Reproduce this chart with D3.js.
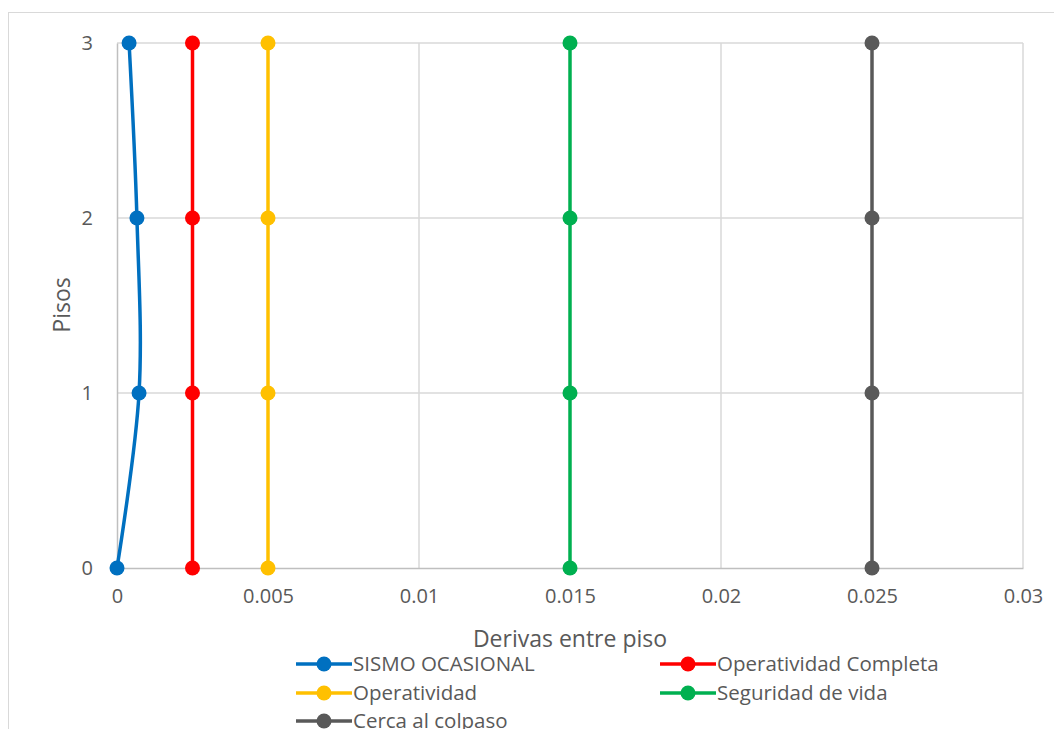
<!DOCTYPE html>
<html>
<head>
<meta charset="utf-8">
<script src="https://cdn.jsdelivr.net/npm/d3@7"></script>
<style>
  html, body { margin: 0; padding: 0; background: #fff; }
  svg { display: block; font-family: "Open Sans", "Noto Sans", sans-serif; }
</style>
</head>
<body>
<svg id="chart" width="1054" height="729"></svg>
<script>
// Floors (y) and inter-storey drift values (x) for each series
const floors = [0, 1, 2, 3];
const sismoOcasional = [0, 0.00073, 0.00066, 0.0004];
const operatividadCompleta = [0.0025, 0.0025, 0.0025, 0.0025];
const operatividad = [0.005, 0.005, 0.005, 0.005];
const seguridadVida = [0.015, 0.015, 0.015, 0.015];
const cercaColapso = [0.025, 0.025, 0.025, 0.025];

const seriesNames = ["SISMO OCASIONAL", "Operatividad Completa", "Operatividad", "Seguridad de vida", "Cerca al colpaso"];
const seriesValues = [sismoOcasional, operatividadCompleta, operatividad, seguridadVida, cercaColapso];
const seriesColors = ["#0070c0", "#ff0000", "#ffc000", "#00b050", "#595959"];

const xTicks = [0, 0.005, 0.01, 0.015, 0.02, 0.025, 0.03];
const xTickLabels = ["0", "0.005", "0.01", "0.015", "0.02", "0.025", "0.03"];
const yTicks = [0, 1, 2, 3];

const svg = d3.select("#chart");

// Outer chart frame
svg.append("rect")
  .attr("x", 8.5).attr("y", 12.5)
  .attr("width", 1060).attr("height", 740)
  .attr("fill", "none").attr("stroke", "#d9d9d9").attr("stroke-width", 1);

const x = d3.scaleLinear().domain([0, 0.03]).range([117, 1023]);
const y = d3.scaleLinear().domain([0, 3]).range([568, 43]);

// Gridlines
svg.append("g")
  .selectAll("line.vg")
  .data(xTicks.slice(1))
  .join("line")
  .attr("x1", d => x(d)).attr("x2", d => x(d))
  .attr("y1", y(0)).attr("y2", y(3))
  .attr("stroke", "#d9d9d9").attr("stroke-width", 1.5);

svg.append("g")
  .selectAll("line.hg")
  .data(yTicks.slice(1))
  .join("line")
  .attr("x1", x(0)).attr("x2", x(0.03))
  .attr("y1", d => y(d)).attr("y2", d => y(d))
  .attr("stroke", "#d9d9d9").attr("stroke-width", 1.5);

// Axes
const xAxis = d3.axisBottom(x).tickValues(xTicks)
  .tickFormat((d, i) => xTickLabels[i]).tickSize(0).tickPadding(21);
const gx = svg.append("g").attr("transform", `translate(0,${y(0)})`).call(xAxis);
gx.select(".domain").attr("stroke", "#bfbfbf").attr("stroke-width", 1.5);
gx.selectAll("text").attr("fill", "#595959").style("font-size", "20px")
  .style("font-family", "'Open Sans', sans-serif");

const yAxis = d3.axisLeft(y).tickValues(yTicks).tickFormat(d3.format("d"))
  .tickSize(0).tickPadding(24);
const gy = svg.append("g").attr("transform", `translate(${x(0)},0)`).call(yAxis);
gy.select(".domain").attr("stroke", "#bfbfbf").attr("stroke-width", 1.5);
gy.selectAll("text").attr("fill", "#595959").style("font-size", "20px")
  .style("font-family", "'Open Sans', sans-serif");

// Axis titles
svg.append("text")
  .attr("x", 570).attr("y", 639).attr("dy", "0.35em")
  .attr("text-anchor", "middle")
  .attr("fill", "#595959").style("font-size", "23px")
  .text("Derivas entre piso");

svg.append("text")
  .attr("transform", "translate(62,305) rotate(-90)")
  .attr("dy", "0.35em")
  .attr("text-anchor", "middle")
  .attr("fill", "#595959").style("font-size", "23px")
  .text("Pisos");

// Series lines and markers
const line = d3.line()
  .x(d => x(d[0])).y(d => y(d[1]))
  .curve(d3.curveCatmullRom.alpha(0.5));

seriesValues.forEach((vals, i) => {
  const pts = vals.map((v, k) => [v, floors[k]]);
  const g = svg.append("g");
  g.append("path")
    .datum(pts)
    .attr("d", line)
    .attr("fill", "none")
    .attr("stroke", seriesColors[i])
    .attr("stroke-width", 3.5);
  g.selectAll("circle")
    .data(pts)
    .join("circle")
    .attr("cx", d => x(d[0])).attr("cy", d => y(d[1]))
    .attr("r", 7.5)
    .attr("fill", seriesColors[i]);
});

// Legend
const legendPos = [
  [296, 664], [660, 664],
  [296, 693], [660, 693],
  [296, 721]
];
seriesNames.forEach((name, i) => {
  const [lx, ly] = legendPos[i];
  const g = svg.append("g").attr("transform", `translate(${lx},${ly})`);
  g.append("line").attr("x1", 0).attr("x2", 56).attr("y1", 0).attr("y2", 0)
    .attr("stroke", seriesColors[i]).attr("stroke-width", 3.5);
  g.append("circle").attr("cx", 28).attr("cy", 0).attr("r", 7.5)
    .attr("fill", seriesColors[i]);
  g.append("text").attr("x", 57).attr("y", 0).attr("dy", "0.35em")
    .attr("fill", "#595959").style("font-size", "20.5px").text(name);
});
</script>
</body>
</html>
